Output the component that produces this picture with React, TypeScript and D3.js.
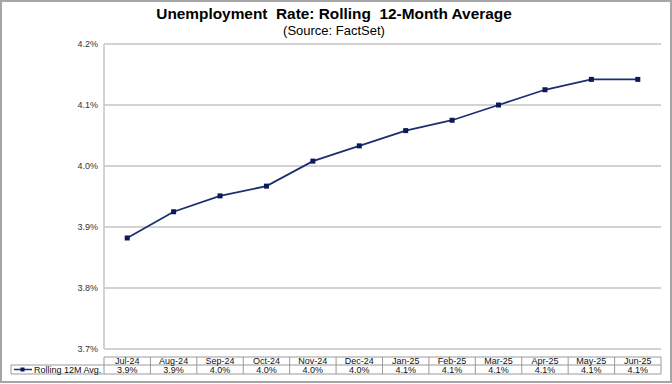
import { useEffect, useRef } from 'react';
import * as d3 from 'd3';

const months = ['Jul-24', 'Aug-24', 'Sep-24', 'Oct-24', 'Nov-24', 'Dec-24', 'Jan-25', 'Feb-25', 'Mar-25', 'Apr-25', 'May-25', 'Jun-25'];
const rolling12m = [3.882, 3.925, 3.951, 3.967, 4.008, 4.033, 4.058, 4.075, 4.1, 4.125, 4.142, 4.142];
const tableLabels = ['3.9%', '3.9%', '4.0%', '4.0%', '4.0%', '4.0%', '4.1%', '4.1%', '4.1%', '4.1%', '4.1%', '4.1%'];
const yTicks = [3.7, 3.8, 3.9, 4.0, 4.1, 4.2];
const seriesName = 'Rolling 12M Avg.';

const FONT = "Arial, 'Liberation Sans', sans-serif";

const App = () => {
  const svgRef = useRef<SVGSVGElement>(null);
  const width = 672;
  const height = 384;

  useEffect(() => {
    if (!svgRef.current) return;
    const svg = d3.select(svgRef.current);
    svg.selectAll('*').remove();

    const plot = { left: 104, right: 661, top: 44, bottom: 349 };

    // outer frame
    svg.append('rect')
      .attr('x', 1).attr('y', 1)
      .attr('width', width - 2).attr('height', height - 3)
      .attr('fill', '#fff')
      .attr('stroke', '#a6a6a6')
      .attr('stroke-width', 2);

    // titles
    svg.append('text')
      .attr('x', 334).attr('y', 19)
      .attr('text-anchor', 'middle')
      .style('font-family', FONT)
      .style('font-size', '15.4px')
      .style('font-weight', 'bold')
      .style('fill', '#000')
      .style('white-space', 'pre')
      .text('Unemployment  Rate: Rolling  12-Month Average');

    svg.append('text')
      .attr('x', 334).attr('y', 35)
      .attr('text-anchor', 'middle')
      .style('font-family', FONT)
      .style('font-size', '13px')
      .style('fill', '#000')
      .text('(Source: FactSet)');

    const x = d3.scaleBand()
      .domain(months)
      .range([plot.left, plot.right]);

    const y = d3.scaleLinear()
      .domain([3.7, 4.2])
      .range([plot.bottom, plot.top]);

    // gridlines
    svg.append('g')
      .selectAll('line')
      .data(yTicks)
      .join('line')
      .attr('x1', plot.left).attr('x2', plot.right)
      .attr('y1', d => y(d)).attr('y2', d => y(d))
      .attr('stroke', '#c4c4c4')
      .attr('stroke-width', 1.5);

    // left axis line
    svg.append('line')
      .attr('x1', plot.left).attr('x2', plot.left)
      .attr('y1', plot.top).attr('y2', plot.bottom)
      .attr('stroke', '#c4c4c4')
      .attr('stroke-width', 1.5);

    // y labels
    svg.append('g')
      .selectAll('text')
      .data(yTicks)
      .join('text')
      .attr('x', 98)
      .attr('y', d => y(d) + 3)
      .attr('text-anchor', 'end')
      .style('font-family', FONT)
      .style('font-size', '9px')
      .style('fill', '#333')
      .text(d => d.toFixed(1) + '%');

    // line
    const cx = (m: string) => (x(m) || 0) + x.bandwidth() / 2;
    const line = d3.line<number>()
      .x((_, i) => cx(months[i]))
      .y(d => y(d));

    svg.append('path')
      .datum(rolling12m)
      .attr('fill', 'none')
      .attr('stroke', '#1c2f6e')
      .attr('stroke-width', 1.8)
      .attr('d', line);

    svg.append('g')
      .selectAll('rect')
      .data(rolling12m)
      .join('rect')
      .attr('x', (_, i) => cx(months[i]) - 2.5)
      .attr('y', d => y(d) - 2.5)
      .attr('width', 5)
      .attr('height', 5)
      .attr('fill', '#0b1a5c');

    // data table
    const tTop = 357, tMid = 365, tBot = 374, legLeft = 11;
    const tg = svg.append('g');
    const gridStroke = '#9a9a9a';

    tg.append('line').attr('x1', plot.left).attr('x2', plot.right)
      .attr('y1', tTop).attr('y2', tTop).attr('stroke', gridStroke).attr('stroke-width', 1);
    tg.append('line').attr('x1', legLeft).attr('x2', plot.right)
      .attr('y1', tMid).attr('y2', tMid).attr('stroke', gridStroke).attr('stroke-width', 1);
    tg.append('line').attr('x1', legLeft).attr('x2', plot.right)
      .attr('y1', tBot).attr('y2', tBot).attr('stroke', gridStroke).attr('stroke-width', 1);
    tg.append('line').attr('x1', legLeft).attr('x2', legLeft)
      .attr('y1', tMid).attr('y2', tBot).attr('stroke', gridStroke).attr('stroke-width', 1);

    const edges = [...months.map(m => x(m) || 0), plot.right];
    tg.selectAll('.vline')
      .data(edges)
      .join('line')
      .attr('class', 'vline')
      .attr('x1', d => d).attr('x2', d => d)
      .attr('y1', tTop).attr('y2', tBot)
      .attr('stroke', gridStroke)
      .attr('stroke-width', 1);

    tg.selectAll('.hdr')
      .data(months)
      .join('text')
      .attr('class', 'hdr')
      .attr('x', d => cx(d))
      .attr('y', tTop + 7)
      .attr('text-anchor', 'middle')
      .style('font-family', FONT)
      .style('font-size', '9px')
      .style('fill', '#111')
      .text(d => d);

    tg.selectAll('.val')
      .data(tableLabels)
      .join('text')
      .attr('class', 'val')
      .attr('x', (_, i) => cx(months[i]))
      .attr('y', tMid + 7.5)
      .attr('text-anchor', 'middle')
      .style('font-family', FONT)
      .style('font-size', '9px')
      .style('fill', '#111')
      .text(d => d);

    // legend key
    tg.append('line')
      .attr('x1', 14).attr('x2', 32)
      .attr('y1', (tMid + tBot) / 2).attr('y2', (tMid + tBot) / 2)
      .attr('stroke', '#1c2f6e').attr('stroke-width', 1.5);
    tg.append('rect')
      .attr('x', 20.5).attr('y', (tMid + tBot) / 2 - 2)
      .attr('width', 4).attr('height', 4)
      .attr('fill', '#0b1a5c');
    tg.append('text')
      .attr('x', 34)
      .attr('y', tMid + 7.5)
      .style('font-family', FONT)
      .style('font-size', '9px')
      .style('fill', '#111')
      .text(seriesName);
  }, []);

  return (
    <svg
      ref={svgRef}
      width={width}
      height={height}
      style={{ position: 'absolute', left: 0, top: 0, background: '#fff' }}
    />
  );
};

export default App;
